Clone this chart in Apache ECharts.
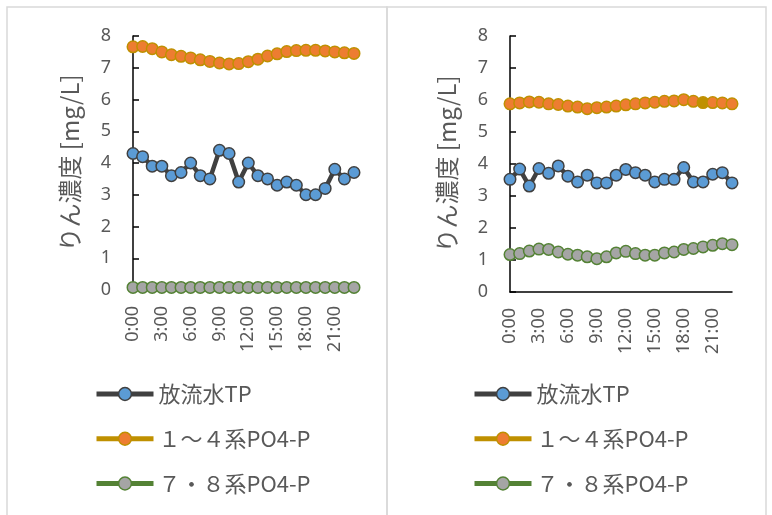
<!DOCTYPE html>
<html>
<head>
<meta charset="utf-8">
<script src="https://cdn.jsdelivr.net/npm/echarts@6/dist/echarts.min.js"></script>
<style>html,body{margin:0;padding:0;background:#fff;}#c{width:772px;height:515px;}</style>
</head>
<body>
<div id="c"></div>
<script>
const hours = ["0:00","1:00","2:00","3:00","4:00","5:00","6:00","7:00","8:00","9:00","10:00","11:00","12:00","13:00","14:00","15:00","16:00","17:00","18:00","19:00","20:00","21:00","22:00","23:00"];
const seriesNames = ["放流水TP", "１～４系PO4-P", "７・８系PO4-P"];
const yAxisName = "りん濃度 [mg/L]";

// left panel
const leftTP = [4.3,4.2,3.9,3.9,3.6,3.7,4.0,3.6,3.5,4.4,4.3,3.4,4.0,3.6,3.5,3.3,3.4,3.3,3.0,3.0,3.2,3.8,3.5,3.7];
const left14 = [7.66,7.67,7.60,7.50,7.41,7.36,7.31,7.25,7.20,7.15,7.12,7.13,7.19,7.27,7.37,7.44,7.51,7.54,7.55,7.55,7.53,7.50,7.47,7.45];
const left78 = [0.08,0.08,0.08,0.08,0.08,0.08,0.08,0.08,0.08,0.08,0.08,0.08,0.08,0.08,0.08,0.08,0.08,0.08,0.08,0.08,0.08,0.08,0.08,0.08];

// right panel
const rightTP = [3.52,3.84,3.31,3.86,3.71,3.94,3.62,3.44,3.65,3.41,3.41,3.65,3.83,3.73,3.65,3.44,3.52,3.52,3.89,3.44,3.44,3.68,3.73,3.41];
const right14 = [5.88,5.91,5.94,5.93,5.88,5.86,5.81,5.78,5.73,5.76,5.78,5.81,5.85,5.88,5.91,5.93,5.96,5.97,6.01,5.96,5.92,5.92,5.91,5.88];
const right78 = [1.17,1.20,1.28,1.34,1.33,1.25,1.18,1.15,1.10,1.04,1.10,1.22,1.27,1.20,1.15,1.15,1.22,1.25,1.33,1.36,1.41,1.46,1.51,1.48];
const rightHighlightIndex = 20;

const txt = '#595959';
const numFont = '"Noto Sans", sans-serif';
const cjkFont = '"Noto Sans CJK JP", "Noto Sans", sans-serif';

const styles = [
  {line: '#404040', fill: '#5B9BD5', border: '#404040'},
  {line: '#BF9000', fill: '#ED7D31', border: '#BF9000'},
  {line: '#548235', fill: '#A5A5A5', border: '#548235'}
];

function mkX(gi) {
  return {
    type: 'category', gridIndex: gi, data: hours, boundaryGap: false,
    axisLine: {lineStyle: {color: '#000', width: 1.5}},
    axisTick: {show: false},
    axisLabel: {interval: 2, rotate: 90, margin: 16, color: txt, fontSize: 18, fontFamily: numFont},
    splitLine: {show: false}
  };
}
function mkY(gi) {
  return {
    type: 'value', gridIndex: gi, min: 0, max: 8, interval: 1,
    name: yAxisName, nameLocation: 'middle', nameGap: 51, nameRotate: 90,
    nameTextStyle: {color: txt, fontSize: 24, fontFamily: cjkFont},
    axisLine: {show: true, lineStyle: {color: '#000', width: 1.5}},
    axisTick: {show: true, inside: true, length: 6, lineStyle: {color: '#000', width: 1.5}},
    axisLabel: {margin: 22, color: txt, fontSize: 18, fontFamily: numFont},
    splitLine: {show: false}
  };
}
function mkSeries(gi, arr, k, dataOverride) {
  const s = styles[k];
  return {
    type: 'line', name: seriesNames[k], xAxisIndex: gi, yAxisIndex: gi,
    data: dataOverride || arr,
    symbol: 'circle', symbolSize: 11.5, showAllSymbol: true,
    lineStyle: {color: s.line, width: 4.5},
    itemStyle: {color: s.fill, borderColor: s.border, borderWidth: 1.5},
    emphasis: {disabled: true},
    animation: false
  };
}
function mkLegend(left) {
  return {
    orient: 'vertical', left: left, top: 378,
    data: seriesNames,
    itemWidth: 57, itemHeight: 16, itemGap: 22.75,
    lineStyle: {width: 5},
    itemStyle: {borderWidth: 1.5},
    textStyle: {color: txt, fontSize: 22, fontFamily: cjkFont, lineHeight: 22},
    selectedMode: false
  };
}

const right14Data = right14.map((v, i) => i === rightHighlightIndex ? {value: v, itemStyle: {color: '#BF9000'}} : v);

const chart = echarts.init(document.getElementById('c'), null, {renderer: 'canvas'});
chart.setOption({
  backgroundColor: '#fff',
  animation: false,
  graphic: [
    {type: 'rect', shape: {x: 7, y: 7, width: 380, height: 520}, style: {fill: 'none', stroke: '#D9D9D9', lineWidth: 1.5}, silent: true, z: -1},
    {type: 'rect', shape: {x: 387, y: 7, width: 379, height: 520}, style: {fill: 'none', stroke: '#D9D9D9', lineWidth: 1.5}, silent: true, z: -1}
  ],
  grid: [
    {left: 133, top: 36, width: 221, height: 254},
    {left: 510, top: 36, width: 222, height: 256}
  ],
  xAxis: [mkX(0), mkX(1)],
  yAxis: [mkY(0), mkY(1)],
  legend: [mkLegend(89), mkLegend(467)],
  series: [
    mkSeries(0, leftTP, 0),
    mkSeries(0, left14, 1),
    mkSeries(0, left78, 2),
    mkSeries(1, rightTP, 0),
    mkSeries(1, right14, 1, right14Data),
    mkSeries(1, right78, 2)
  ]
});
</script>
</body>
</html>
